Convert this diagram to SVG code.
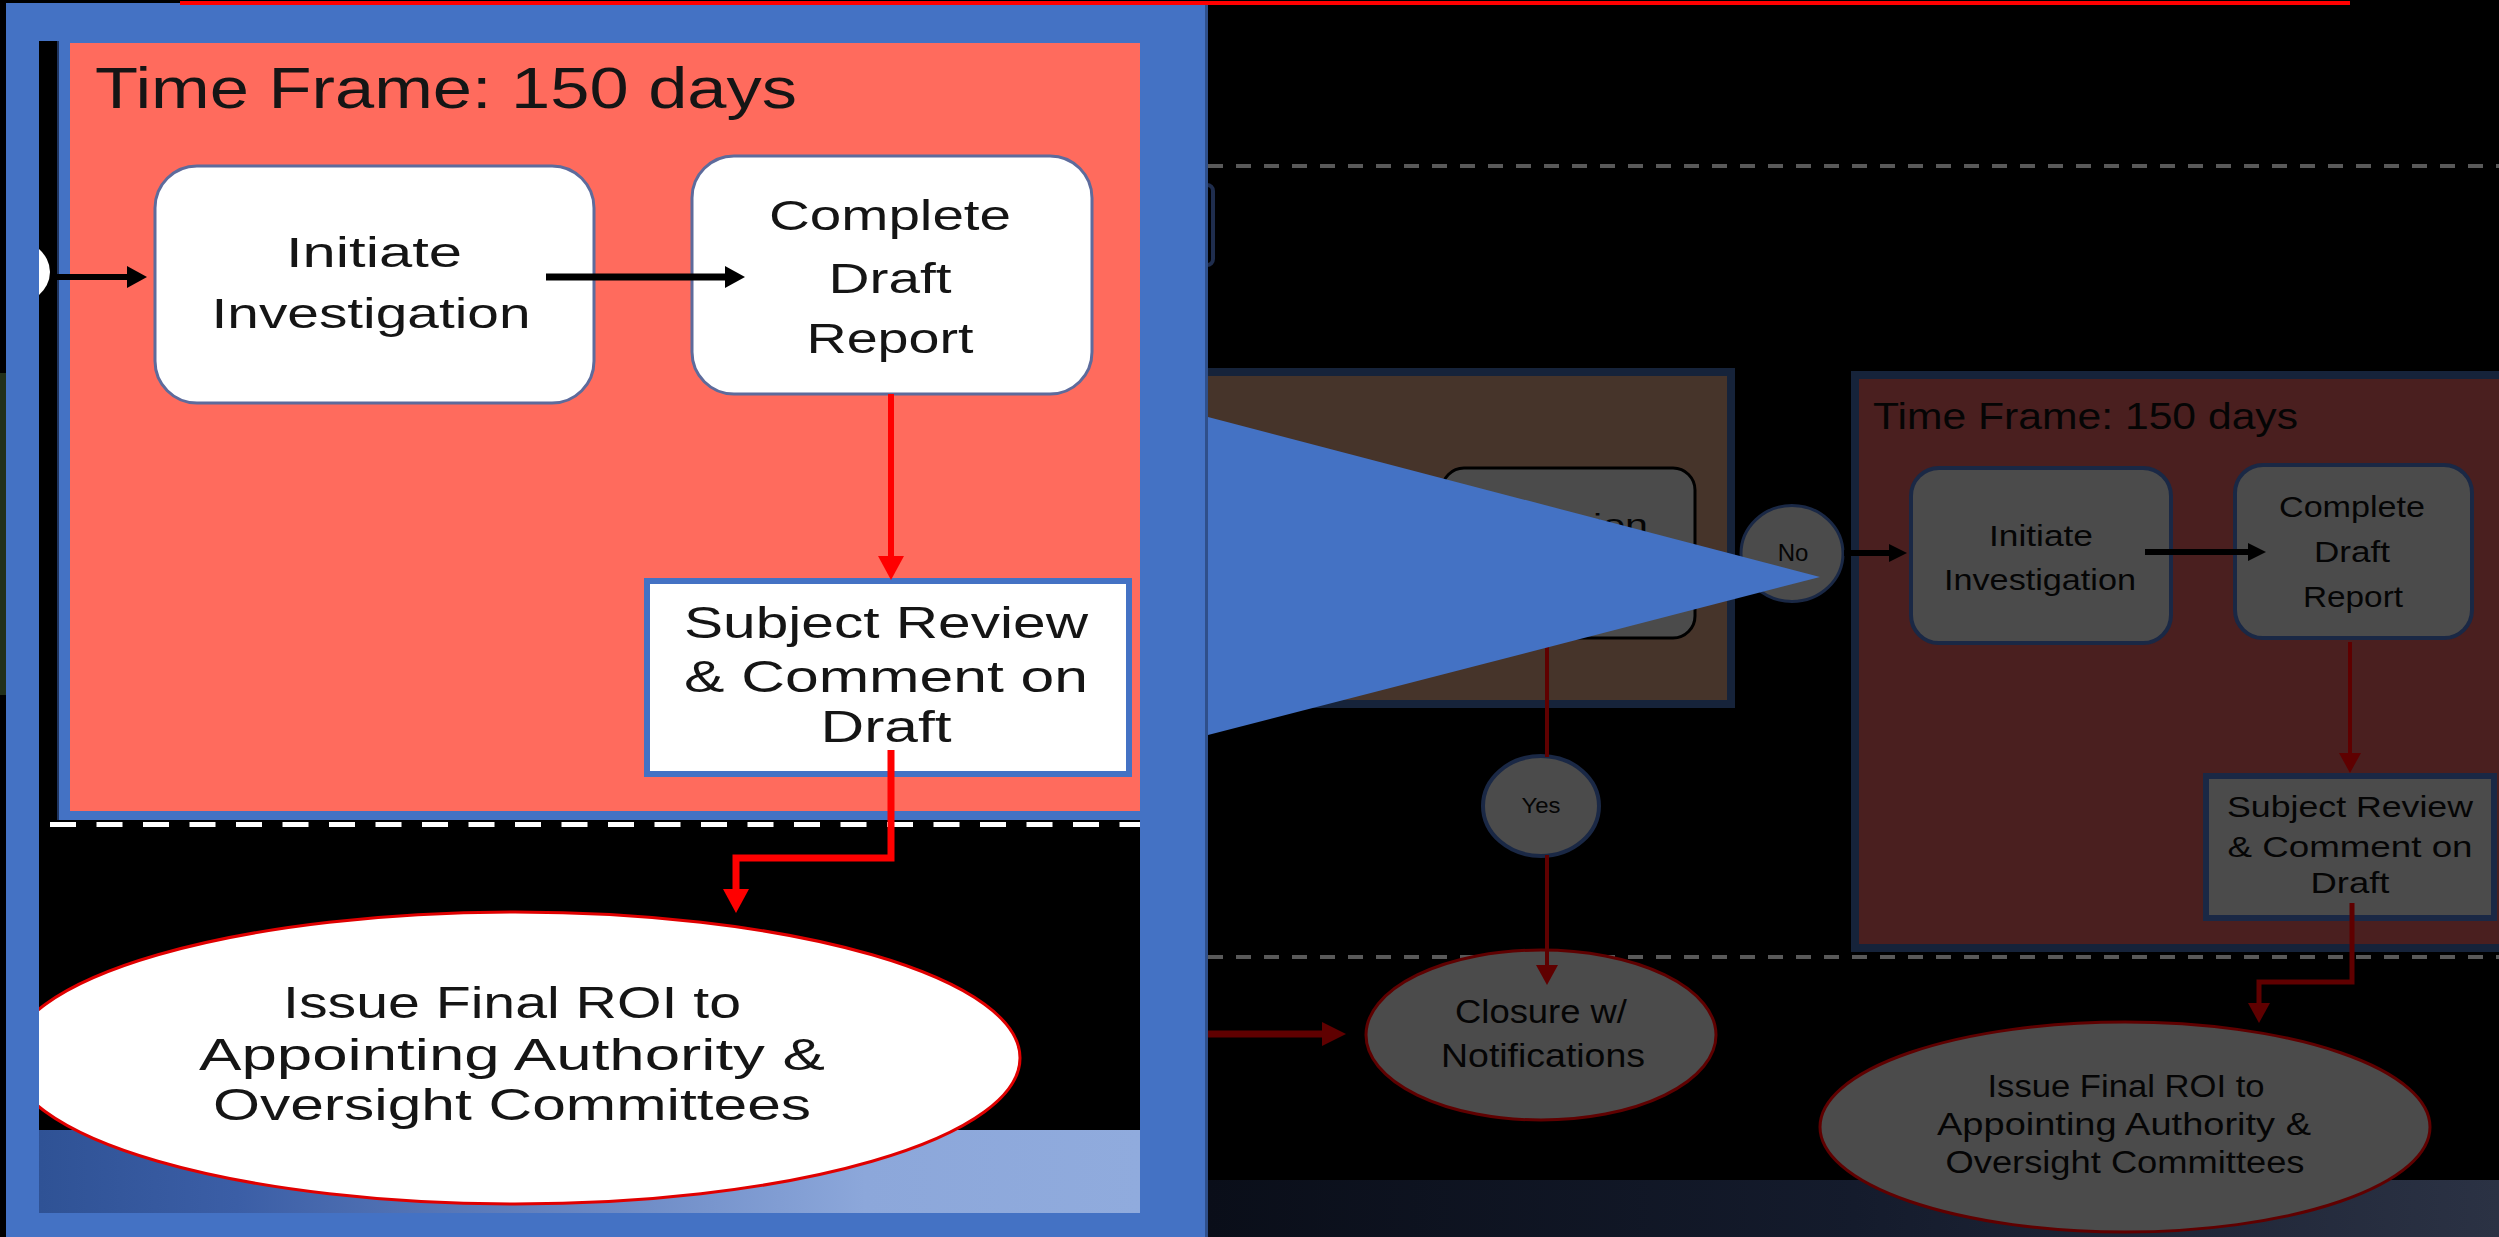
<svg xmlns="http://www.w3.org/2000/svg" width="2499" height="1237" viewBox="0 0 2499 1237">
<style>
.t{font-family:"Liberation Sans",Arial,sans-serif;text-anchor:middle;}
.ti{fill:#151515;}
.td{fill:#050505;}
.gnode{fill:#4b4b4b;stroke:#1a2845;stroke-width:4;}
.dash{stroke:#595959;stroke-width:4;stroke-dasharray:15 13;}
.dred{stroke:#5f0000;fill:none;}
</style>
<defs>
<marker id="ahBL" markerUnits="userSpaceOnUse" markerWidth="20" markerHeight="22" refX="0" refY="11" orient="auto"><path d="M0,0 L20,11 L0,22 z" fill="#000"/></marker>
<marker id="ahRL" markerUnits="userSpaceOnUse" markerWidth="24" markerHeight="26" refX="0" refY="13" orient="auto"><path d="M0,0 L24,13 L0,26 z" fill="#f00"/></marker>
<marker id="ahBS" markerUnits="userSpaceOnUse" markerWidth="18" markerHeight="18" refX="0" refY="9" orient="auto"><path d="M0,0 L18,9 L0,18 z" fill="#000"/></marker>
<marker id="ahDR" markerUnits="userSpaceOnUse" markerWidth="20" markerHeight="22" refX="0" refY="11" orient="auto"><path d="M0,0 L20,11 L0,22 z" fill="#5f0000"/></marker>
<marker id="ahDRL" markerUnits="userSpaceOnUse" markerWidth="24" markerHeight="24" refX="0" refY="12" orient="auto"><path d="M0,0 L24,12 L0,24 z" fill="#5f0000"/></marker>
<linearGradient id="gBand" x1="0" y1="0" x2="1" y2="0"><stop offset="0" stop-color="#2f5295"/><stop offset="0.18" stop-color="#3b5ea6"/><stop offset="0.75" stop-color="#8ca7da"/><stop offset="1" stop-color="#90abdd"/></linearGradient>
<linearGradient id="gDark" x1="0" y1="0" x2="1" y2="0"><stop offset="0" stop-color="#0a0e19"/><stop offset="0.5" stop-color="#141b2c"/><stop offset="1" stop-color="#2b3244"/></linearGradient>
<clipPath id="clipInner"><rect x="39" y="41" width="1101" height="1172"/></clipPath>
</defs>

<rect x="0" y="0" width="2499" height="1237" fill="#000"/>
<rect x="0" y="373" width="6" height="322" fill="#22301a"/>

<!-- right (dimmed) background lanes -->
<g id="lanes">
<line class="dash" x1="1208" y1="166" x2="2499" y2="166"/>
<rect x="1050" y="185" width="163" height="80" rx="6" fill="none" stroke="#1f2d4d" stroke-width="4"/>
<rect x="1150" y="372" width="581" height="332" fill="#46342a" stroke="#16233a" stroke-width="8"/>
<rect x="1855" y="375" width="700" height="573" fill="#4a1f1f" stroke="#16233a" stroke-width="8"/>
<line class="dash" x1="1208" y1="957" x2="2499" y2="957"/>
<rect x="1208" y="1180" width="1291" height="57" fill="url(#gDark)"/>
<text class="t td" x="1873" y="429" font-size="37" text-anchor="start" style="text-anchor:start" textLength="425" lengthAdjust="spacingAndGlyphs">Time Frame: 150 days</text>
</g>

<g id="nodes">
<g id="decision">
<rect x="1442" y="468" width="253" height="170" rx="22" fill="#4b4b4b" stroke="#000" stroke-width="3"/>
<text class="t td" x="1648" y="535" font-size="30" style="text-anchor:end" textLength="55" lengthAdjust="spacingAndGlyphs">ion</text>
</g>
<g id="no">
<ellipse cx="1792" cy="553.5" rx="51" ry="48" fill="#4b4b4b" stroke="#1a2845" stroke-width="3"/>
<text class="t td" x="1793" y="561" font-size="24">No</text>
</g>
<g id="initiate-r">
<rect class="gnode" x="1911" y="468" width="260" height="175" rx="28"/>
<text class="t td" x="2041" y="546" font-size="30" textLength="104" lengthAdjust="spacingAndGlyphs">Initiate</text>
<text class="t td" x="2040" y="590" font-size="30" textLength="192" lengthAdjust="spacingAndGlyphs">Investigation</text>
</g>
<g id="complete-r">
<rect class="gnode" x="2235" y="465" width="237" height="173" rx="28"/>
<text class="t td" x="2352" y="517" font-size="30" textLength="146" lengthAdjust="spacingAndGlyphs">Complete</text>
<text class="t td" x="2352" y="562" font-size="30" textLength="76" lengthAdjust="spacingAndGlyphs">Draft</text>
<text class="t td" x="2353" y="607" font-size="30" textLength="100" lengthAdjust="spacingAndGlyphs">Report</text>
</g>
<g id="subject-r">
<rect x="2206" y="776" width="288" height="142" fill="#4b4b4b" stroke="#1a2845" stroke-width="6"/>
<text class="t td" x="2350" y="817" font-size="30" textLength="246" lengthAdjust="spacingAndGlyphs">Subject Review</text>
<text class="t td" x="2350" y="857" font-size="30" textLength="245" lengthAdjust="spacingAndGlyphs">&amp; Comment on</text>
<text class="t td" x="2350" y="893" font-size="30" textLength="79" lengthAdjust="spacingAndGlyphs">Draft</text>
</g>
<g id="yes">
<ellipse cx="1541" cy="806" rx="58" ry="50" fill="#4b4b4b" stroke="#1a2845" stroke-width="4"/>
<text class="t td" x="1541" y="813" font-size="22" textLength="39" lengthAdjust="spacingAndGlyphs">Yes</text>
</g>
<g id="closure">
<ellipse cx="1541" cy="1035" rx="175" ry="85" fill="#4b4b4b" stroke="#5f0000" stroke-width="3"/>
<text class="t td" x="1541" y="1023" font-size="33" textLength="172" lengthAdjust="spacingAndGlyphs">Closure w/</text>
<text class="t td" x="1543" y="1067" font-size="33" textLength="204" lengthAdjust="spacingAndGlyphs">Notifications</text>
</g>
<g id="issue-r">
<ellipse cx="2125" cy="1127" rx="305" ry="105" fill="#4b4b4b" stroke="#5f0000" stroke-width="3"/>
<text class="t td" x="2126" y="1097" font-size="31" textLength="277" lengthAdjust="spacingAndGlyphs">Issue Final ROI to</text>
<text class="t td" x="2124" y="1135" font-size="31" textLength="374" lengthAdjust="spacingAndGlyphs">Appointing Authority &amp;</text>
<text class="t td" x="2125" y="1173" font-size="31" textLength="359" lengthAdjust="spacingAndGlyphs">Oversight Committees</text>
</g>
</g>

<g id="connectors">
<line x1="1844" y1="553" x2="1889" y2="553" stroke="#000" stroke-width="6" marker-end="url(#ahBS)"/>
<line x1="2145" y1="552" x2="2248" y2="552" stroke="#000" stroke-width="6" marker-end="url(#ahBS)"/>
<line class="dred" x1="2350" y1="642" x2="2350" y2="753" stroke-width="4" marker-end="url(#ahDR)"/>
<line class="dred" x1="1547" y1="638" x2="1547" y2="757" stroke-width="4"/>
<line class="dred" x1="1547" y1="855" x2="1547" y2="965" stroke-width="4" marker-end="url(#ahDR)"/>
<line class="dred" x1="1200" y1="1034" x2="1322" y2="1034" stroke-width="7" marker-end="url(#ahDRL)"/>
<polyline class="dred" points="2352,903 2352,982 2259,982 2259,1003" stroke-width="5" marker-end="url(#ahDR)"/>
</g>

<!-- zoomed inset -->
<g id="inset">
<rect x="6" y="3" width="1202" height="1234" fill="#4472c4"/>
<rect x="1205" y="3" width="3" height="1234" fill="#2f4f8a"/>
<g clip-path="url(#clipInner)">
<rect x="39" y="41" width="1101" height="1172" fill="#000"/>
<rect x="57" y="30" width="1100" height="790" fill="#4472c4"/>
<rect x="57" y="30" width="2" height="790" fill="#1f3560"/>
<rect x="70" y="43" width="1080" height="768" fill="#ff6b5d"/>
<ellipse cx="8" cy="272" rx="42" ry="34" fill="#fff"/>
<line x1="50" y1="824.5" x2="1140" y2="824.5" stroke="#fff" stroke-width="5" stroke-dasharray="26 20.5"/>
<rect x="39" y="1130" width="1101" height="83" fill="url(#gBand)"/>
<text class="t ti" x="95" y="108" font-size="57" style="text-anchor:start" textLength="702" lengthAdjust="spacingAndGlyphs">Time Frame: 150 days</text>
<g id="initiate-l">
<rect x="155" y="166" width="439" height="237" rx="42" fill="#fff" stroke="#5d6b9c" stroke-width="3"/>
<text class="t ti" x="374" y="267" font-size="42" textLength="176" lengthAdjust="spacingAndGlyphs">Initiate</text>
<text class="t ti" x="371" y="328" font-size="42" textLength="319" lengthAdjust="spacingAndGlyphs">Investigation</text>
</g>
<g id="complete-l">
<rect x="692" y="156" width="400" height="238" rx="42" fill="#fff" stroke="#5d6b9c" stroke-width="3"/>
<text class="t ti" x="890" y="230" font-size="42" textLength="242" lengthAdjust="spacingAndGlyphs">Complete</text>
<text class="t ti" x="890" y="293" font-size="42" textLength="123" lengthAdjust="spacingAndGlyphs">Draft</text>
<text class="t ti" x="890" y="353" font-size="42" textLength="167" lengthAdjust="spacingAndGlyphs">Report</text>
</g>
<g id="subject-l">
<rect x="647" y="581" width="482" height="193" fill="#fff" stroke="#4472c4" stroke-width="6"/>
<text class="t ti" x="886" y="638" font-size="44" textLength="404" lengthAdjust="spacingAndGlyphs">Subject Review</text>
<text class="t ti" x="886" y="692" font-size="44" textLength="404" lengthAdjust="spacingAndGlyphs">&amp; Comment on</text>
<text class="t ti" x="886" y="742" font-size="44" textLength="131" lengthAdjust="spacingAndGlyphs">Draft</text>
</g>
<g id="issue-l">
<ellipse cx="515" cy="1058" rx="505" ry="146" fill="#fff" stroke="#e00000" stroke-width="3"/>
<text class="t ti" x="512" y="1018" font-size="44" textLength="458" lengthAdjust="spacingAndGlyphs">Issue Final ROI to</text>
<text class="t ti" x="512" y="1070" font-size="44" textLength="626" lengthAdjust="spacingAndGlyphs">Appointing Authority &amp;</text>
<text class="t ti" x="512" y="1120" font-size="44" textLength="598" lengthAdjust="spacingAndGlyphs">Oversight Committees</text>
</g>
<g id="inset-connectors">
<line x1="50" y1="277" x2="127" y2="277" stroke="#000" stroke-width="6" marker-end="url(#ahBL)"/>
<line x1="546" y1="277" x2="725" y2="277" stroke="#000" stroke-width="7" marker-end="url(#ahBL)"/>
<line x1="891" y1="394" x2="891" y2="556" stroke="#f00" stroke-width="6" marker-end="url(#ahRL)"/>
<polyline points="891,750 891,858 736,858 736,889" fill="none" stroke="#f00" stroke-width="7" marker-end="url(#ahRL)"/>
</g>
</g>
<rect x="180" y="1" width="2170" height="4" fill="#f00"/>
</g>

<polygon id="zoom-pointer" points="1208,417 1820,577 1208,735" fill="#4472c4"/>
</svg>
